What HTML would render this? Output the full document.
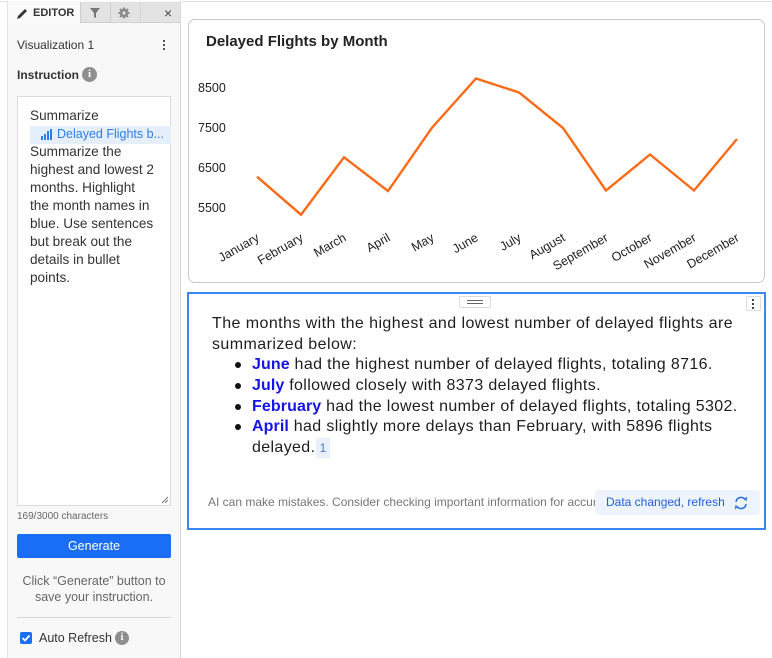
<!DOCTYPE html>
<html><head><meta charset="utf-8">
<style>
*{box-sizing:border-box}
body{margin:0;width:772px;height:658px;position:relative;background:#fff;font-family:"Liberation Sans",Arial,sans-serif;overflow:hidden;color:#333}
.a{position:absolute}
.ln{position:absolute;white-space:nowrap}
</style></head><body>
<div class="a" style="left:0;top:1px;width:772px;height:1px;background:#e2e2e2"></div>

<!-- Left panel -->
<div class="a" style="left:7px;top:1px;width:174px;height:657px;background:#f8f8f8;border-left:1px solid #e4e4e4;border-right:1px solid #dadada"></div>
<!-- tabs -->
<div class="a" style="left:81px;top:2px;width:99px;height:21px;background:#e3e3e3;border-bottom:1px solid #d0d0d0"></div>
<div class="a" style="left:80px;top:2px;width:1px;height:21px;background:#cfcfcf"></div>
<div class="a" style="left:110px;top:2px;width:1px;height:21px;background:#cfcfcf"></div>
<div class="a" style="left:140px;top:2px;width:1px;height:21px;background:#d6d6d6"></div>
<div class="a" style="left:8px;top:2px;width:72px;height:21px;background:#fbfbfb"></div>
<svg class="a" style="left:15px;top:7px" width="14" height="14" viewBox="0 0 14 14"><path d="M2 12 L3 9 L10 2 L12 4 L5 11 Z" fill="#333"/></svg>
<div class="ln" style="left:33px;top:7px;font-size:11px;font-weight:bold;color:#333">EDITOR</div>
<svg class="a" style="left:89px;top:7px" width="12" height="12" viewBox="0 0 12 12"><path d="M1 1 H11 L7 6 V11 L5 10 V6 Z" fill="#777"/></svg>
<svg class="a" style="left:118px;top:7px" width="12" height="12" viewBox="0 0 12 12"><circle cx="6" cy="6" r="4.2" fill="#8a8a8a"/><g stroke="#8a8a8a" stroke-width="2"><line x1="6" y1="0.5" x2="6" y2="11.5"/><line x1="0.5" y1="6" x2="11.5" y2="6"/><line x1="2" y1="2" x2="10" y2="10"/><line x1="10" y1="2" x2="2" y2="10"/></g><circle cx="6" cy="6" r="1.6" fill="#e3e3e3"/></svg>
<div class="ln" style="left:164px;top:5px;font-size:14px;color:#444">×</div>

<div class="ln" style="left:17px;top:38px;font-size:12px;color:#333">Visualization 1</div>
<div class="a" style="left:163px;top:40px;width:2px;height:2px;background:#555;box-shadow:0 4px 0 #555,0 8px 0 #555"></div>
<div class="ln" style="left:17px;top:68px;font-size:12px;font-weight:bold;color:#333">Instruction</div>
<div class="a" style="left:82px;top:67px;width:15px;height:15px;border-radius:50%;background:#8f8f8f;color:#fff;font-size:11px;font-weight:bold;text-align:center;line-height:15px;font-family:'Liberation Serif',serif">i</div>

<!-- textarea -->
<div class="a" style="left:17px;top:96px;width:154px;height:410px;background:#fff;border:1px solid #dcdcdc"></div>
<div class="a" style="left:30px;top:126px;width:141px;height:18px;background:#e5effc"></div>
<svg class="a" style="left:41px;top:129px" width="12" height="11" viewBox="0 0 12 11"><rect x="0" y="7" width="2" height="4" fill="#2b7de9"/><rect x="3" y="5" width="2" height="6" fill="#2b7de9"/><rect x="6" y="2" width="2" height="9" fill="#2b7de9"/><rect x="9" y="0" width="2" height="11" fill="#2b7de9"/></svg>
<div class="ln" style="left:57px;top:127px;font-size:12.5px;color:#2b7de9">Delayed Flights b...</div>
<div class="a" style="left:30px;top:107px;font-size:13.6px;line-height:18px;color:#333;white-space:nowrap">Summarize<br><br>Summarize the<br>highest and lowest 2<br>months. Highlight<br>the month names in<br>blue. Use sentences<br>but break out the<br>details in bullet<br>points.</div>
<svg class="a" style="left:161px;top:496px" width="8" height="8"><line x1="1" y1="7" x2="7" y2="1" stroke="#777"/><line x1="4" y1="7" x2="7" y2="4" stroke="#777"/></svg>

<div class="ln" style="left:17px;top:511px;font-size:10px;color:#666">169/3000 characters</div>
<div class="a" style="left:17px;top:534px;width:154px;height:24px;background:#1a6ef5;border-radius:2px;color:#fff;font-size:12.5px;text-align:center;line-height:24px">Generate</div>
<div class="a" style="left:17px;top:573px;width:154px;text-align:center;font-size:12.5px;line-height:16px;color:#666">Click “Generate” button to<br>save your instruction.</div>
<div class="a" style="left:17px;top:617px;width:154px;height:1px;background:#d8d8d8"></div>
<div class="a" style="left:20px;top:632px;width:12px;height:12px;background:#1a6ef5;border-radius:2px"></div>
<svg class="a" style="left:20px;top:632px" width="12" height="12"><path d="M2.5 6 L5 8.5 L9.5 3.5" stroke="#fff" stroke-width="1.8" fill="none"/></svg>
<div class="ln" style="left:39px;top:631px;font-size:12.5px;color:#333">Auto Refresh</div>
<div class="a" style="left:115px;top:631px;width:14px;height:14px;border-radius:50%;background:#8f8f8f;color:#fff;font-size:10px;font-weight:bold;text-align:center;line-height:14px;font-family:'Liberation Serif',serif">i</div>

<!-- Chart card -->
<div class="a" style="left:188px;top:19px;width:577px;height:264px;border:1px solid #cacaca;border-radius:7px;background:#fff"></div>
<div class="ln" style="left:206px;top:33px;font-size:15px;font-weight:bold;color:#222">Delayed Flights by Month</div>
<svg class="a" style="left:0;top:0" width="772" height="290">
<g font-family="Liberation Sans, Arial, sans-serif" font-size="12.5" fill="#222">
<text x="198" y="92">8500</text>
<text x="198" y="132">7500</text>
<text x="198" y="172">6500</text>
<text x="198" y="212">5500</text>
</g>
<polyline fill="none" stroke="#fa6a17" stroke-width="2.4" stroke-linejoin="miter" points="257,176.7 301,214.7 344,157.3 388,191 432,127.7 476,78.5 519,92.5 563,128 606,190.5 650,154.5 694,190.5 737,139"/>
<g font-family="Liberation Sans, Arial, sans-serif" font-size="12.5" fill="#222" text-anchor="end">
<text transform="translate(260,240) rotate(-30)">January</text>
<text transform="translate(304,240) rotate(-30)">February</text>
<text transform="translate(347,240) rotate(-30)">March</text>
<text transform="translate(391,240) rotate(-30)">April</text>
<text transform="translate(435,240) rotate(-30)">May</text>
<text transform="translate(479,240) rotate(-30)">June</text>
<text transform="translate(522,240) rotate(-30)">July</text>
<text transform="translate(566,240) rotate(-30)">August</text>
<text transform="translate(609,240) rotate(-30)">September</text>
<text transform="translate(653,240) rotate(-30)">October</text>
<text transform="translate(697,240) rotate(-30)">November</text>
<text transform="translate(740,240) rotate(-30)">December</text>
</g>
</svg>

<!-- Text card -->
<div class="a" style="left:187px;top:292px;width:579px;height:238px;border:2px solid #3a86f5;background:#fff"></div>
<div class="a" style="left:459px;top:296px;width:32px;height:12px;border:1px solid #dcdcdc;border-radius:2px;background:#fff"></div>
<div class="a" style="left:467px;top:300px;width:16px;height:1px;background:#666;box-shadow:0 3px 0 #666"></div>
<div class="a" style="left:746px;top:296px;width:15px;height:15px;border:1px solid #dcdcdc;border-radius:2px;background:#fff"></div>
<div class="a" style="left:752px;top:299px;width:2px;height:2px;background:#444;box-shadow:0 4px 0 #444,0 8px 0 #444"></div>

<div class="a" style="left:212px;top:313px;font-size:16px;line-height:21px;color:#1e1e1e;letter-spacing:0.43px;white-space:nowrap">The months with the highest and lowest number of delayed flights are<br>summarized below:</div>
<div class="a" style="left:252px;top:355px;font-size:16px;line-height:20.8px;color:#1e1e1e;letter-spacing:0.36px;white-space:nowrap"><b style="color:#1515e6;letter-spacing:0.1px">June</b> had the highest number of delayed flights, totaling 8716.<br><b style="color:#1515e6;letter-spacing:0.1px">July</b> followed closely with 8373 delayed flights.<br><b style="color:#1515e6;letter-spacing:0.1px">February</b> had the lowest number of delayed flights, totaling 5302.<br><b style="color:#1515e6;letter-spacing:0.1px">April</b> had slightly more delays than February, with 5896 flights<br>delayed.</div>
<div class="a" style="left:235px;top:362px;width:6px;height:6px;border-radius:50%;background:#111"></div>
<div class="a" style="left:235px;top:383px;width:6px;height:6px;border-radius:50%;background:#111"></div>
<div class="a" style="left:235px;top:404px;width:6px;height:6px;border-radius:50%;background:#111"></div>
<div class="a" style="left:235px;top:424px;width:6px;height:6px;border-radius:50%;background:#111"></div>
<div class="a" style="left:316px;top:438px;width:14px;height:20px;background:#e9f0fd;color:#4a78cf;font-size:12px;text-align:center;line-height:20px">1</div>

<div class="a" style="left:208px;top:495px;width:388px;overflow:hidden;white-space:nowrap;font-size:12px;color:#777">AI can make mistakes. Consider checking important information for accuracy.</div>
<div class="a" style="left:595px;top:490px;width:165px;height:25px;background:#eef4fe;border-radius:4px"></div>
<div class="ln" style="left:606px;top:495px;font-size:12px;color:#1f5fd6">Data changed, refresh</div>
<svg class="a" style="left:733px;top:495px" width="16" height="16" viewBox="0 0 16 16"><path d="M3 7 A5 5 0 0 1 12 4.5" stroke="#2a6fe0" stroke-width="1.5" fill="none"/><path d="M13 9 A5 5 0 0 1 4 11.5" stroke="#2a6fe0" stroke-width="1.5" fill="none"/><path d="M10.5 3 L13 5 L13.5 2" stroke="#2a6fe0" stroke-width="1.3" fill="none"/><path d="M5.5 13 L3 11 L2.5 14" stroke="#2a6fe0" stroke-width="1.3" fill="none"/></svg>
</body></html>
